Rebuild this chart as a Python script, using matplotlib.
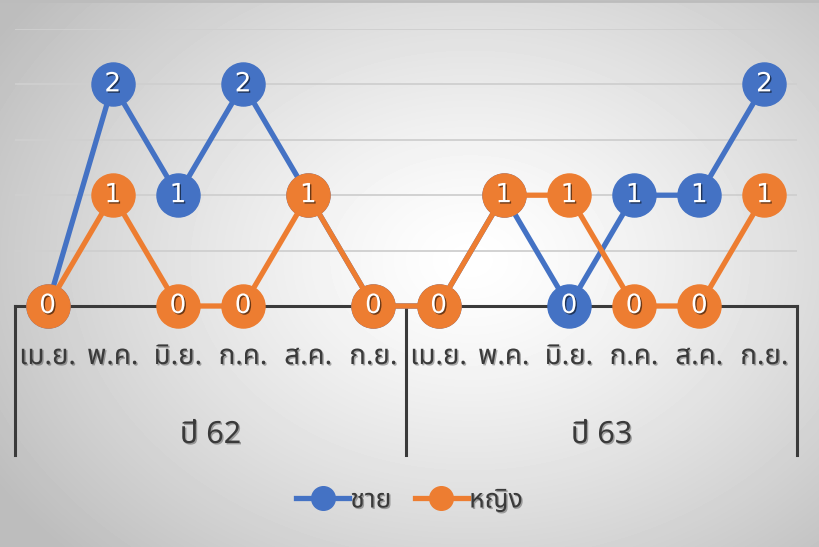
import numpy as np
import matplotlib
matplotlib.use("Agg")
import matplotlib.pyplot as plt
import matplotlib.font_manager as fm
import matplotlib.patheffects as pe
from matplotlib.ft2font import FT2Font
from matplotlib.lines import Line2D

# data
months = ["เม.ย.", "พ.ค.", "มิ.ย.", "ก.ค.", "ส.ค.", "ก.ย."]
years = ["ปี 62", "ปี 63"]
male = [0, 2, 1, 2, 1, 0, 0, 1, 0, 1, 1, 2]
female = [0, 1, 0, 0, 1, 0, 0, 1, 1, 0, 0, 1]
series_names = ["ชาย", "หญิง"]

BLUE = "#4472C4"
ORANGE = "#ED7D31"
TXT = "#3a3a3a"


# find a font that has Thai glyphs
def thai_font():
    found = []
    for f in fm.fontManager.ttflist:
        try:
            if 0x0E0A in FT2Font(f.fname).get_charmap():
                found.append(f.name)
        except Exception:
            pass
    for pref in ["Noto Sans Thai", "Noto Sans Thai UI", "Loma", "Garuda", "Tlwg Typo"]:
        if pref in found:
            return pref
    return found[0] if found else "DejaVu Sans"


font = thai_font()
plt.rcParams["font.family"] = [font, "DejaVu Sans"]

fig = plt.figure(figsize=(8.19, 5.47), dpi=100)

# radial gradient background
bg = fig.add_axes([0, 0, 1, 1], zorder=-10)
yy, xx = np.mgrid[0:547, 0:819]
r = np.sqrt(((xx - 470) / 560.0) ** 2 + ((yy - 260) / 420.0) ** 2)
shade = 1.0 - 0.26 * np.clip(r, 0, 1) ** 1.3
bg.imshow(shade, cmap="gray", vmin=0, vmax=1, aspect="auto", extent=[0, 1, 0, 1])
bg.axhline(0.998, color="#bcbcbc", lw=2)
bg.set_axis_off()

ax = fig.add_axes([15 / 819, (547 - 306) / 547, (797 - 15) / 819, (306 - 29) / 547])
ax.patch.set_alpha(0)

n = len(male)
x = np.arange(n)
ax.set_xlim(-0.5, n - 0.5)
ax.set_ylim(0, 2.5)

for v in np.arange(0.5, 2.51, 0.5):
    ax.axhline(v, color="#cfcfcf", lw=1.3, zorder=0)

shadow = [pe.withSimplePatchShadow(offset=(1, -1), shadow_rgbFace="black", alpha=0.3)]
lbl_shadow = [pe.withSimplePatchShadow(offset=(1, -1), shadow_rgbFace="black", alpha=0.55)]

for vals, color, z in [(male, BLUE, 3), (female, ORANGE, 5)]:
    ax.plot(x, vals, color=color, lw=3.8, marker="o", ms=31, mfc=color, mec=color,
            clip_on=False, zorder=z)
    for xi, v in zip(x, vals):
        ax.text(xi, v, str(v), color="white", fontsize=19, ha="center", va="center",
                family=["Liberation Sans Narrow", "DejaVu Sans"], zorder=z + 0.5,
                path_effects=lbl_shadow)

for s in ["top", "left", "right"]:
    ax.spines[s].set_visible(False)
ax.spines["bottom"].set_color(TXT)
ax.spines["bottom"].set_linewidth(2.2)
ax.set_yticks([])
ax.set_xticks([])

# multi-level category axis
trans = ax.get_xaxis_transform()
depth = -(455 - 306) / (306 - 29)
for b in [-0.5, 5.5, 11.5]:
    ax.plot([b, b], [0, depth], color=TXT, lw=2.2, transform=trans, clip_on=False)

for i in range(n):
    ax.text(x[i], -(357 - 306) / (306 - 29), months[i % 6], transform=trans,
            ha="center", va="center", fontsize=20, color=TXT, path_effects=shadow)
for j, yl in enumerate(years):
    ax.text(2.5 + 6 * j, -(435 - 306) / (306 - 29), yl, transform=trans,
            ha="center", va="center", fontsize=22, color=TXT, path_effects=shadow)

handles = [Line2D([], [], color=c, lw=3.8, marker="o", ms=17) for c in (BLUE, ORANGE)]
leg = fig.legend(handles, series_names, loc="center", bbox_to_anchor=(0.5, 0.085), ncol=2,
                 frameon=False, fontsize=19, handlelength=2.0, handletextpad=0.05,
                 columnspacing=0.9)
for t in leg.get_texts():
    t.set_color(TXT)
    t.set_path_effects(shadow)

fig.savefig("out.png", dpi=100)
